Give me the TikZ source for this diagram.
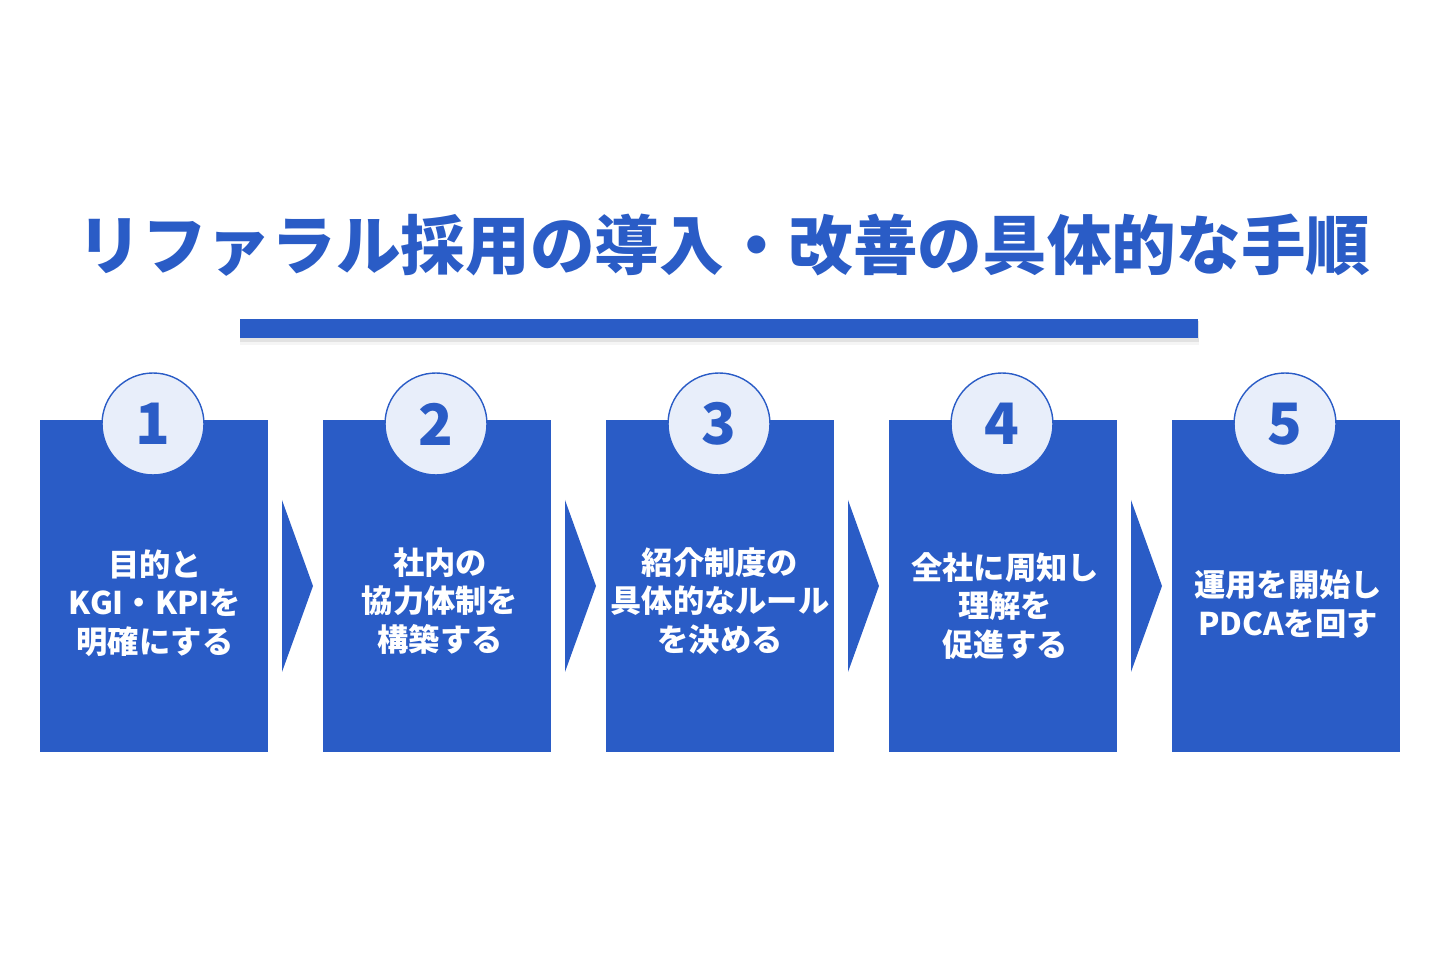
\documentclass[tikz,border=0pt]{standalone}
\usepackage{fontspec}
\setmainfont{Noto Sans CJK JP}
\usepackage{tikz}
\usetikzlibrary{positioning}

\definecolor{stepblue}{HTML}{2A5CC6}
\definecolor{circfill}{HTML}{E8EEFA}

\begin{document}
\begin{tikzpicture}[x=0.02cm,y=0.02cm,
    stepbox/.style={fill=stepblue,minimum width=4.56cm,minimum height=6.64cm,inner sep=0pt},
    numcirc/.style={circle,fill=circfill,draw=stepblue,line width=0.8pt,minimum size=2.04cm,inner sep=0pt,
      font=\fontsize{32.5}{36}\selectfont\bfseries,text=stepblue},
    steptext/.style={align=center,text=white,font=\fontsize{17.8}{22}\selectfont\bfseries},
    arrowtri/.style={fill=stepblue}]
        \useasboundingbox (0,0) rectangle (1440,960);

        % title and bar
        \node[text=stepblue,font=\fontsize{36.8}{43}\selectfont\bfseries] (title) at (724,715) {リファラル採用の導入・改善の具体的な手順};
        \fill[black,opacity=0.04] (240,615) rectangle (1199,639);
        \fill[black,opacity=0.08] (240,618) rectangle (1199,639);
        \fill[stepblue] (240,622) rectangle (1198,641);

        % boxes
        \node[stepbox] (box1) at (154,374) {};
        \node[stepbox] (box2) at (437,374) {};
        \node[stepbox] (box3) at (720,374) {};
        \node[stepbox] (box4) at (1003,374) {};
        \node[stepbox] (box5) at (1286,374) {};

        % arrows between boxes
        \fill[arrowtri] (282,460) -- (313,374) -- (282,288) -- cycle;
        \fill[arrowtri] (565,460) -- (596,374) -- (565,288) -- cycle;
        \fill[arrowtri] (848,460) -- (879,374) -- (848,288) -- cycle;
        \fill[arrowtri] (1131,460) -- (1162,374) -- (1131,288) -- cycle;

        % numbers
        \node[numcirc] (num1) at (153,536) {1};
        \node[numcirc] (num2) at (436,536) {2};
        \node[numcirc] (num3) at (719,536) {3};
        \node[numcirc] (num4) at (1002,536) {4};
        \node[numcirc] (num5) at (1285,536) {5};

        % texts
        \node[steptext] (txt1) at (155,357) {目的と\\KGI・KPIを\\明確にする};
        \node[steptext] (txt2) at (440,359) {社内の\\協力体制を\\構築する};
        \node[steptext] (txt3) at (720,359) {紹介制度の\\具体的なルール\\を決める};
        \node[steptext] (txt4) at (1005,354) {全社に周知し\\理解を\\促進する};
        \node[steptext] (txt5) at (1288,356) {運用を開始し\\PDCAを回す};
      \end{tikzpicture}
\end{document}
